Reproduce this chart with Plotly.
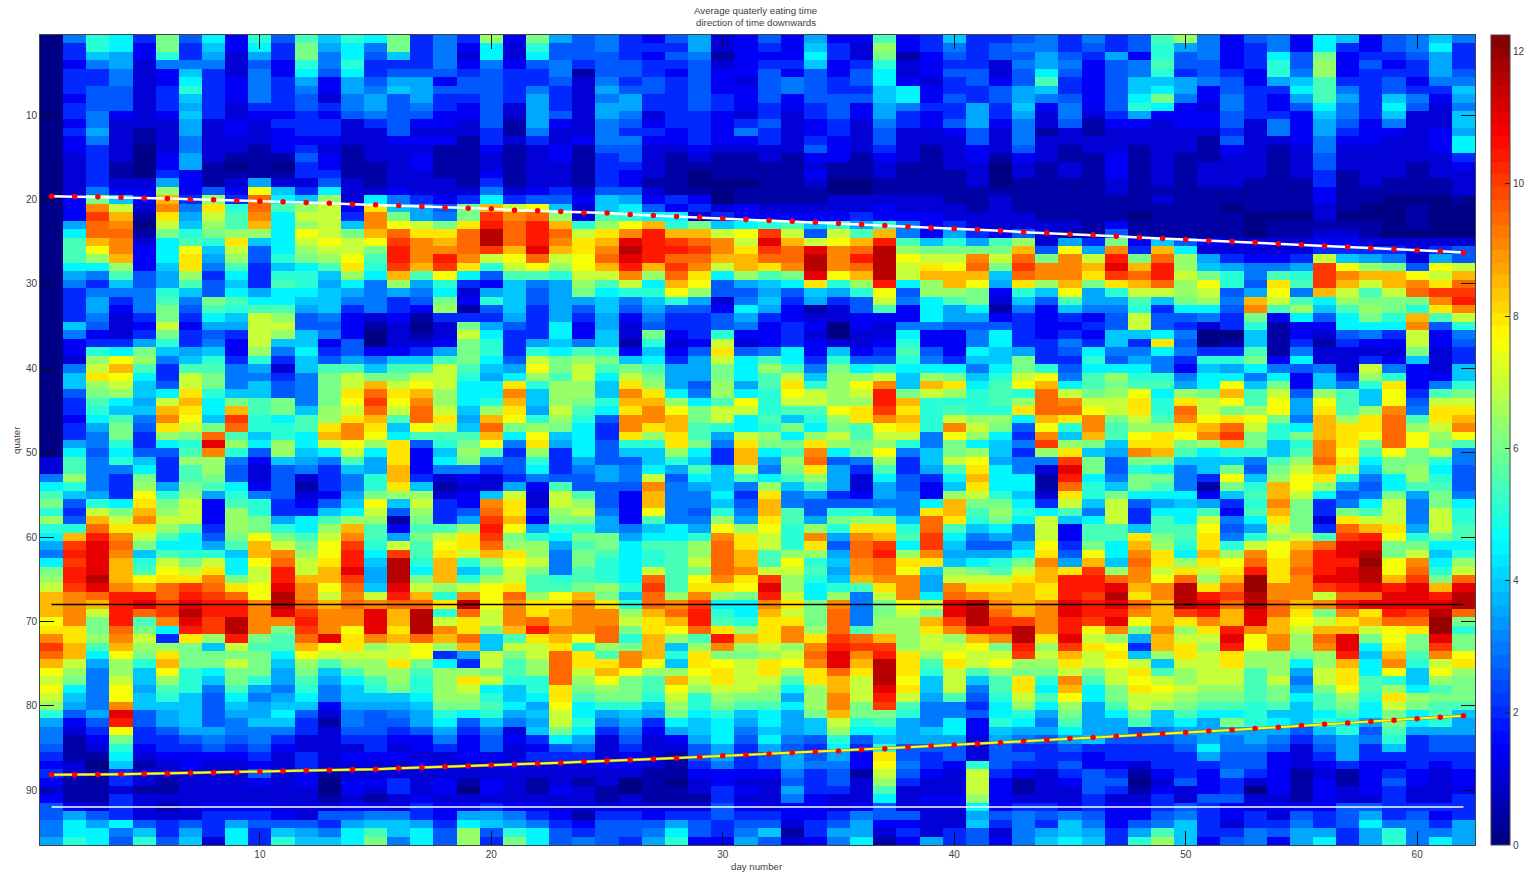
import plotly.graph_objects as go

# Cell values, read by eye. Letter code: a=0, b=0.5, c=1, ... y=12 (half-unit steps).
# One line per quarter (quarter 1 at the top). Days 1-22
quarter_rows_left = """
a g k j e m f j d k f l i k j m e g e n d m
a e k j d m e i d j e m h j g m e g d j c k
a e i h d k e h c h e m g j f i e g c j c j
a d g h c g g g c f d k g k e e e g d g d f
a e e g c d i e c g d j f j e f f f e f e e
a e e g c d j e d g e h d h f h h d f f e e
a e f f c e k e d g e g d h g i h f f f e g
a d f f c e i e d g e f c g h f h e e f e h
a e f f c e h e c e e f e g h f g e d f c h
a e g d c d i e c d d e d f g f f d d f c h
a d g c c c h c d c e e e c e f d d c f b h
a e h c b c h c d c d e e c c f c c c e b g
a d g c b c g c c c d d d c c d d d b e c e
a d e c a c g c c b d e c b c c c b b d b c
a c e c a d h c b b b f d b c c d b b c b c
a c e b a d h b a b a e d b b c d b b c b c
a c e b a e d b b b b e e b b c c b b d b c
a c e c c h d b c h c c f c b c c c b e b c
a c g d d n d f d p i e j c c d c c c g c d
a d m i d r e n e t j i n c j g e d e j e f
a d s o c s g q k t l n o d q i h f m r o p
a d u r b q h o l s j o o e s m h g m u s t
a h t s a o i n l r j n o i s p o m q v t v
a j t t b m k m n n j p o m r t q q t x t v
a l r s c j l k q i j o p o p u s r t x t v
a l p s d j p i o f j n o o m v s s t u r w
a l n r d j q h n f k m n p l v s v s o p t
a j j n d i q g l e i j l q k u r u q k o p
a h g l f h n e j e k k i n j r l p j f l l
a g e i f h l f i e l k h j g n h k e d i g
a e g g g k i f j h j j i h g h g j c h i f
a e h e g l g m l j j i i g g e f m d k i f
a e h d g m f l k l l h i e g e d n b f i e
a e g c e m e j i o n f g d c d b e e e h e
a i f c d o d h h o o f f d b c a c m h f e
a g d c e m e f e o n i g d a c b c o j e e
a d e e h k e g d o i i d f a c c d m k e h
a d k j m i h i d n g j e f d d e h m k e k
a c n p n g i k e k e i f h g i i l m j f o
a g o r l e l l g h c i l l i l l o l i h p
a i q p j e o m g g e g m o m m o o k h j n
a i n o i f o m g i f g m o r o p o j j q k
a f m n i j q k i i f g m q t q r n j j s i
a e l j h o r j m l m g m p u p s n j k r i
a e k i i r q j r l m i n o t o t o i n q h
a d j l g s p i u k j l n q r l t q h r p k
a e h m f q o m t k k l q s q i p o i t m n
a e g m e n m t l i k j r s p j l l l r j p
a h g k e j k w n j n j o p n q f k m p g q
a j f j f f l s k f n i j o j q d i n l e n
c l g k i e n n g d i h g l h q d j m g f k
c l g g j e l n f c f g e i h r d g g e f j
g n g e m e l m f c f c e g k r e c d c e g
j k g e n h m l j d f b e g k q i b c c h d
l i h e p k n h k g f c d h m n n c d i o c
m f k j q m o d l k e d f i p i o e d s q c
k e o m r n o d n k e e i j o f n e f t q e
n f r o s o o d n m h j l n n b m e h u r d
k k t q q n l e n m k j n r l d l l n v p h
j r v s o l j f m p m l o s l h m o q u m k
h u w t m j j h l r o m p u k o l p q t n n
g v w s i l k k i r s n p v j u l q o r q n
j u w r k o m o j p t o q v i x k r k n p o
m v w r l p o q j o v o r w h x j r i l o m
n v x r p q q s m o v r r u h x m r k n o l
o u w s r t u t q p w s p t i w o n o p q l
r s t v v t v u t p x s o s o v r k s p t n
r s r v w u w v v s x t r t s t t q x p s q
r s o v t u x v v s w u s s w r x k t o s q
p s m v l s w u x s s v s s w r x o q o s t
q q m t m j v u x s m u s p w q x s q m r v
s q n s o e q n v m l t w q s r t r t i l q
u r l r n n m i o l l r p q n o p n r i o o
t r j p m q m m m m j p o o o o p e h o m o
r o h n k r m m o m i n l n n q m j e o l n
p n g n i p k j m m h m i l n n l n n m l n
o m g o i n k i m k h l h j l n k n q o k k
p j g p h l k g l h g k g i k m k n o j i k
o i g p i k i f j g h j g i i i j n n k i j
n h g s i i i f i h i i d h h h i m m l j h
k f h w f h i f h h j f c g f g h k j k h i
h d f v f h i f g i i e b g f f h j f i g h
g c e p e f h h g g g e c f f e f h e g c i
g b d m e e f g f g e c c e e d d g d f d e
f b c k d e e f e f d c c c e c d e d f c d
e b b j c d d d d e c e c d d d c c d d c e
d c a i b c d c c d c e c c c c d c c c d c
e c b e c c c c c f c d b c c c c c c c c c
d b b e c b c c c d c d a d d e c d b d c b
c b b c b b c c c c c c a d c e c d a d c b
d b b e c c c c c c c c b c b c d c c c c c
f d c e c b c d d d c c c d d c e d d e d d
f h f e c c c e e e d c f f g g e d h h g e
g j h j f e f e h f f f e h i i h e j i h g
g j j g i e h e j e i h g j l i j f n f k j
h k j f k f i c j e k i i j m g j f n e m j
"""

# Days 23-43 for quarters 1-24, days 23-42 afterwards
quarter_rows_mid = """
h f g e d f h c d f d h d d l d e i e e f
f f g e e e h c d e d i e c n d e g e f g
f f f e d f g b d d d j e c m b d f e f f
g e f f e e f c d e e i d e k c d e e c g
g b f f e d f d d f d f d f j c d f f c f
f c g e f e f d c f g f e f j d c e f d f
e c h f f e f d d f g f e e i j d e e f h
e c g h e e f e d f d f f f i j d f e f h
e c h h e e f e d e d e f d h g e e h e i
f c h g c e e d c e c e f d h e d e h e h
d c g f d e e d e f c d e c g e d f h d g
c c g e e d e d g e c d e c f c c d f c g
c d g g d d e d d e c e d c f c c c f c g
d b f f c c d c c c c f d c e c b c d c f
d b e f c b c b b c b d d b d c b c d b d
c b e e c b b b b b b c b b c b b c c a c
c b e d c b a b b b b d b b c b b b c a c
c b e d b b a a a b b c a a b b b b c a b
e c f f c b b a b b b b a a b b b b b b b
f d i h d e d a b b b b c c c c c b b c b
i c i j f d e c d c c c c c d c c c b c b
n c l k j j c e d d d d d e d d d c c c c
r k n p r k m i j k l i k h k g d e c c c
t o q s v r r o p u o f o l r g d h e d f
s q r w v u t s o w r o p r v l i k h l
r q s x v v u s q u t w s t x n m m m m
o p t w v t t r r t t x s v x p o o s o
n p r v r u s o r q s x s t x o q p t m
k o o s n t q j n l m w p r x o r r r i
h n l o j r p f h i j q k n v j n r p h
h m j k k p n f f h f i h k p f n n m d
h h i g i k h c g i e h e f o g j l m c
h f i f h f f d j h d b c f l d j h j b
h e h d g e e f h e d c c d d d j h h d
j d h c f e e f g d e d a d c g g f f f
j d i c m d e k d d e c a c c j d d g j
i g i b k c d o c d e d c c d k d d g j
j l k d i d f q f g j d i d e l f d j i
m n m i j e h o j l j e k f f k g e i i
m o l m l h h m j n l g m j k j j j g j
l o j o m h h m j l o i n n o i n m i k
n n i q n h f n h l q k n p s i r q j l
n n i s q j g n j k p o n o v m o n k l
n m k r r n j l p k o o n n v r k k k l
o l j q s p m o o k l l p q u q k l k k
n k f s s r m o j l i k n q s r k o n n
m j e s q r l k j k m j m l p q k s o m
i j e q n q l h o n j n o l o o g p n j
h j f k k q m g q m m q n m n k g m j i
e j f i i n j e r j l s j m p g i m n i
e h f f i k i e r h n t f g n e i o p h
e g h g j h l i o g m q h e l e h l q j
f f h g o f j i l j l n h c j f e j r j
l f f f s g h i g n i l h c h f d i q j
o l f d r g g j e q g h e d h g d n o k
o n f d r g g i f r g f f f g g j r m m
n o g d p g f k g r l f k k i g q r l n
m m h d l g g n h q l h m n n i t q k m
k k h g i j h p n p k n k q q k t l i j
j m m h j j k s q o k s h s r l u j g h
h l m j l l n t q o k q f t u j u i f f
g m l j k l n t r l n n h t v n s h h h
g m k j k l o t r l p k i s t q q i j k
g l k j o l m t s o o l h s t p i n m l
k l k j t l p s q u n k i r s s h o o o
l m n k u l q q p w n j k l q s h s q q
p r m i t n s n m v o j n g o s j t s r
q s q k t s u j j s q m s g m p o w x s
r s s n r t v k j r o m t g m o m w x t
r s s o q r v l k q q m t g n n r u x u
s s t m q p t q n q s n t l n n q s v v
r p t k r n l v r q s q u t r n o n r s
q k n m r i n s n o n s v u u n o o p m
t q l s r k q m m n o t w s v q n p o o
t q q s p i q p o q p s w r x q l q o p
t o r p n n p q o q n q t q x q k o l n
t n p m l r o q o o l q r o x p i o i l
q m n m l p n o o n j n r o w q i o g l
q l m m k o k n m m h n s o v o h l f k
p j k k i n k m l l j n s m u l g g e j
o j h i h m j k i j h m r m m k g g f j
o k g h e j i j h j h i o k l h g j d k
m j e g d h i j g i h i n j j h i j d i
j h c f c d h j f j g f k f i h h h c h
f g c e c c f h e h f e j e k f f f c f
e e c d c b f h e f h f h d q f e f c f
c c d d c b e g e f h g g d p g e d k f
c c c c b b d d d d g e f b o f d c o e
c b c a b a c d c c f e f c n e c c o d
d c b a b b c e d c h e e c l c c c o d
c c b c b b b e c c g d c c j c d d n d
c c c c c c c f d c d d c d f c c c j d
d b e e d e e f e e d d e g f f c c h f
e d f f f h f e f f c e f h d d c c i e
f e f f g j f e g i b e h h c e c e f c
f g f e h k d d h f c d g j b d h e f d
"""

# Days 44-62 for quarters 1-24, days 43-62 afterwards
quarter_rows_right = """
g e g e f l n g d f g d j i d f g i g
g e f e f k h g d e g d j e d f g j e
h f e h d k f g d e j f m d e e f h e
h g d f g l f f d e k f n d f d e h e
j f d f g k e f e d k g n d e e e h f
l e d f i i h g f d h i l e e f d g g
i e d f i j h d f e e j l g e f e e i
g f d f j m g d g e d h l h e i g d h
d g d f k j d c g e d f j g e j f c g
c g c e h d d d f e e d i g e i c c i
c f b d d c d d f c g d h f d g c c i
b c b c c c c c e c g d h e d d c d h
c c c c c c c b f c c d g d d c c d j
c b c c b c c b d c b c g c c c c d j
c b b d b c b b c c b c f c c c c c e
b c b d b c b c c c b c f c c c b c d
b c b d b c b c c c b c e b c c b c c
b b b c b c b c c b b b e b c b b b c
b b b c b b b b b b b b d b b b b b c
b b b b b c b b b b b b d b b a a a b
b b b b b b b b a b b b c b a a b a a
b b b b a b b b b a a a c a a a b a a
c c b d b b b b b a b b b b b a b a a
c b b f b b b b b a b b c c b a a a a
n c h e m d i f d c c c c d d c c c c c
r f p h s e r j c c c c c e e e e c e f
t m s o v m t n h e d d e o i h g c h f
u s s r w r v n i h g g h u p n m f p o
t s s q u t v o m k g l k u s r r p o r
q n r m q r t n p k f q l u r o r s q t
k i p h k o o n o f h p g r o l o t u u
i f l h h l i m n g r o l j n m m m s v
g d i g g k e j j f s l n i l n m k q s
e d e d f o f f g e m d j f j m k r l o
e d d e f o f e c e k b d d j j j s f k
e d e d i i j g a a i b d c f g e o d g
e e g e i e q f a b i b e b e d d o d f
h e f j g g j g e e l b g c c c c m c e
m e e k f h g e k k m d j c c e d i c e
m k f j j j g d i h j g f g c o g d c i
o p g l n k k g j j g j d i e n k d d i
p r j l m l l h j p i m d i g k q d g k
k t o m n p j n m r l o f n l i p e l m
n t s o o q k q o p l p h p l i p f o o
q t t p o q k t o m n p h q l n s g q q
j r q s m o l s p q p m g r n q t l q r
f p k s l n n q r t o k j r q q t n o s
e s i r l p q p s u m k m r q p t p n p
g u n m i q q m n r m i k s q m t p m l
e n q i h s r l j k k i l s p l p m o g
g g u m f m m i i i g l n t q j m m k g
g c w m f k j g i m f m o r o i m n j f
j b v j g m m g e p i n p q k g j n k f
j b t k i m l g b m k r p n h f j l l f
i c q k m j j j d i l r o j f g m h m g
j e o i o f h i h e k s m e g j o g m j
k j l g o e j j l d l r m e m l o g o k
j o i j o e l j o g j q m c q o o g o k
g o d l l i l l p f h o m e t r q h o l
g o d l l q m l q g k n o l u v p k m l
i p e m j r n k q k o p r t w w m m j j
j q f p j s q j r n s p s v w x m o i k
m s h r i t q n q p t q s v v y p s j n
o r q u n s o q o q v q t v w x p t k o
q r v v t s p t n r y q s w w x r u m t
r q v v w r s x q t y s s u v w v w r w
r q v u x q s x v u x s s o t t w w v x
r s w v w t r x w t x t r s v w w w w x
r s w v v s r u v r w t q m s q v u x t
u s v u w p r q s r w r p o q r t t y m
x s v p s m s n q v s r o r r o p q y k
x q w o n h r o o w p s n t w m p m w m
v n u q p e r q n v p s n s w j q m u m
u o r o q i n q o q n n m n v i r l s p
n n q o p o i o o q n n j n r j s k o q
m m o m o q l n o o l n h o q j p i p n
q k s l o p o n o o l o g o q l k i n m
q j r j m q p o n n l m h m p l n j l m
o l p j m o o n m m l m j l n k q n m m
n j n h l o n m l l k l i l m j o m l l
k h m h j m i l j j k i i j l j m j l i
j g l h h l i j h m k j i k j h m j k h
h h j h h f g h h h h h f i k f l h h h
g f h i f f f g h g h g e g h g k e f f
e e f e e e e f j g g f c f h e i e f f
f e e d e e e e h f f d c e h e e e e e
e e f d d c e e e f f d c d e d d e d e
d c e f e b d e d g e d b c b d e d c d
b c d f f a c f d e c d b d b d f d c d
b c c f e b d c d e a d b d c d e c c d
c c c e c c e c f f c c b d c c e c c e
e e d e d d e f e d c d d d f f e e e e
g f g f d d f g e d e c f e f h e f d e
g e i g d f g i e c e e g e f j g g e h
g h i h e h l i e e g f h h e h k g g h
g i j i e k n i d f g d h j e h k g j h
"""

day_numbers = list(range(1, 63))
quarter_numbers = list(range(1, 97))

upper_fit = [19.60, 19.64, 19.68, 19.76, 19.84, 19.88, 19.96, 20.03, 20.11, 20.19, 20.27,
             20.35, 20.43, 20.55, 20.63, 20.71, 20.82, 20.94, 21.02, 21.10, 21.26, 21.34,
             21.42, 21.58, 21.61, 21.77, 21.89, 22.01, 22.13, 22.25, 22.36, 22.48, 22.56,
             22.68, 22.84, 22.96, 23.08, 23.23, 23.35, 23.47, 23.59, 23.71, 23.87, 23.98,
             24.10, 24.18, 24.34, 24.50, 24.62, 24.73, 24.89, 24.97, 25.09, 25.25, 25.37,
             25.53, 25.64, 25.76, 25.88, 26.00, 26.12, 26.28]
lower_fit = [88.18, 88.18, 88.14, 88.10, 88.06, 88.02, 87.98, 87.94, 87.90, 87.82, 87.74,
             87.66, 87.62, 87.54, 87.51, 87.39, 87.31, 87.23, 87.15, 87.03, 86.95, 86.83,
             86.75, 86.63, 86.55, 86.43, 86.31, 86.20, 86.08, 85.92, 85.84, 85.72, 85.56,
             85.44, 85.36, 85.20, 85.08, 84.92, 84.77, 84.65, 84.49, 84.37, 84.21, 84.05,
             83.89, 83.77, 83.61, 83.46, 83.30, 83.18, 82.98, 82.86, 82.70, 82.54, 82.34,
             82.19, 82.03, 81.87, 81.71, 81.55, 81.35, 81.19]
black_level = [68, 68]
white_level = [92, 92]
level_days = [1, 62]
x_ticks = [10, 20, 30, 40, 50, 60]
y_ticks = [10, 20, 30, 40, 50, 60, 70, 80, 90]
bar_ticks = [0, 2, 4, 6, 8, 10, 12]


def tokens(block):
    return [line.replace(" ", "") for line in block.strip().splitlines()]


left, mid, right = tokens(quarter_rows_left), tokens(quarter_rows_mid), tokens(quarter_rows_right)
rows = [a + b + c for a, b, c in zip(left, mid, right)]
bad = [(i + 1, len(r)) for i, r in enumerate(rows) if len(r) != 62]
if bad or len(rows) != 96:
    raise SystemExit(f"bad rows {len(rows)} {bad}")
z = [[(ord(ch) - 97) * 0.5 for ch in r] for r in rows]


def jet(t):
    def ch(c):
        return max(0.0, min(1.0, 1.5 - abs(4 * t - c)))
    return f"rgb({round(ch(3)*255)},{round(ch(2)*255)},{round(ch(1)*255)})"


scale = []
for i in range(64):
    col = jet((i + 0.5) / 64)
    scale += [[i / 64, col], [(i + 1) / 64, col]]

W, H = 1532, 875
FONT = "Liberation Sans"
TXT = "#404040"

fig = go.Figure()
fig.add_trace(go.Heatmap(
    x=day_numbers, y=quarter_numbers, z=z, zmin=0, zmax=12.25, colorscale=scale,
    colorbar=dict(
        thicknessmode="pixels", thickness=19, lenmode="pixels", len=810,
        x=1491 / W, xanchor="left", y=1 - 35 / H, yanchor="top", xpad=0, ypad=0,
        tickvals=bar_ticks, ticks="inside", ticklen=5, tickcolor="#222222",
        outlinecolor="#444444", outlinewidth=1,
        tickfont=dict(family=FONT, size=10, color=TXT),
    ),
))
fig.add_trace(go.Scatter(x=day_numbers, y=upper_fit, mode="lines",
                         line=dict(color="white", width=2.5), showlegend=False))
fig.add_trace(go.Scatter(x=day_numbers, y=upper_fit, mode="markers",
                         marker=dict(color="#ff0000", size=5.5), showlegend=False))
fig.add_trace(go.Scatter(x=day_numbers, y=lower_fit, mode="lines",
                         line=dict(color="#808060", width=3), showlegend=False))
fig.add_trace(go.Scatter(x=day_numbers, y=lower_fit, mode="lines",
                         line=dict(color="#ffff00", width=2), showlegend=False))
fig.add_trace(go.Scatter(x=day_numbers, y=lower_fit, mode="markers",
                         marker=dict(color="#ff0000", size=5.5), showlegend=False))
fig.add_trace(go.Scatter(x=level_days, y=black_level, mode="lines",
                         line=dict(color="black", width=1.5), showlegend=False))
fig.add_trace(go.Scatter(x=level_days, y=white_level, mode="lines",
                         line=dict(color="white", width=1.5), showlegend=False))

axis_common = dict(
    showgrid=False, zeroline=False, showline=True, linecolor="#444444", linewidth=1,
    mirror="ticks", ticks="inside", ticklen=14, tickcolor="#111111", tickwidth=1,
    tickfont=dict(family=FONT, size=10, color=TXT),
)


def label(text, px, py, angle=0):
    return dict(text=text, x=px / W, y=1 - py / H, xref="paper", yref="paper",
                xanchor="center", yanchor="middle", textangle=angle, showarrow=False,
                font=dict(family=FONT, size=9.7, color=TXT))


fig.update_layout(
    width=W, height=H, margin=dict(l=0, r=0, t=0, b=0),
    paper_bgcolor="white", plot_bgcolor="white", showlegend=False,
    xaxis=dict(domain=[40 / W, 1475 / W], range=[0.5, 62.5], tickvals=x_ticks, **axis_common),
    yaxis=dict(domain=[1 - 845 / H, 1 - 35 / H], range=[96.5, 0.5], tickvals=y_ticks, **axis_common),
    annotations=[
        label("Average quaterly eating time", 755, 10),
        label("direction of time downwards", 756, 23),
        label("day number", 757, 866),
        label("quater", 16, 440, -90),
    ],
)
fig.write_html("out.html", config={"displayModeBar": False},
               post_script="document.body.style.margin='0';")
